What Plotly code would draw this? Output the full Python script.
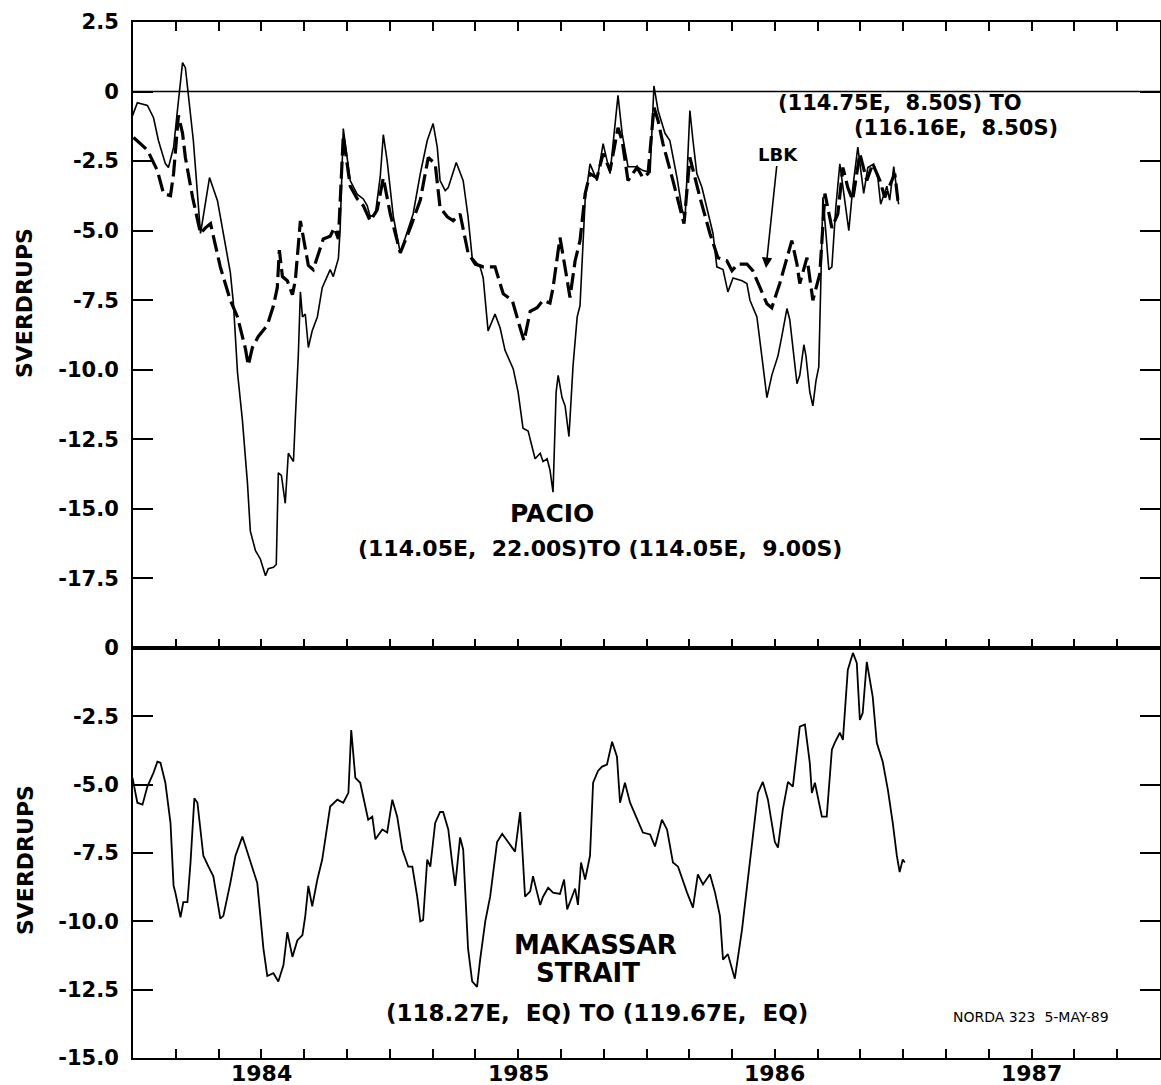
import plotly.graph_objects as go

# ---------------- data (decimal years, Sverdrups) ----------------
pacio_t = [
    1983.494, 1983.517, 1983.556, 1983.580, 1983.599, 1983.626, 1983.638, 1983.658, 1983.673, 1983.693,
    1983.704, 1983.716, 1983.735, 1983.763, 1983.798, 1983.829, 1983.852, 1983.879, 1983.891, 1983.907,
    1983.926, 1983.946, 1983.957, 1983.977, 1983.996, 1984.016, 1984.027, 1984.047, 1984.058, 1984.066,
    1984.078, 1984.093, 1984.105, 1984.125, 1984.132, 1984.144, 1984.152, 1984.160, 1984.171, 1984.183,
    1984.198, 1984.218, 1984.237, 1984.249, 1984.268, 1984.280, 1984.300, 1984.307, 1984.319, 1984.346,
    1984.374, 1984.397, 1984.412, 1984.424, 1984.444, 1984.463, 1984.475, 1984.490, 1984.514, 1984.541,
    1984.591, 1984.619, 1984.646, 1984.669, 1984.685, 1984.696, 1984.716, 1984.728, 1984.759, 1984.786,
    1984.805, 1984.821, 1984.852, 1984.864, 1984.883, 1984.910, 1984.930, 1984.949, 1984.981, 1985.000,
    1985.019, 1985.039, 1985.066, 1985.086, 1985.097, 1985.113, 1985.124, 1985.136, 1985.148, 1985.156,
    1985.171, 1985.183, 1985.198, 1985.214, 1985.230, 1985.241, 1985.261, 1985.280, 1985.307, 1985.331,
    1985.358, 1985.389, 1985.405, 1985.428, 1985.463, 1985.486, 1985.514, 1985.529, 1985.545, 1985.572,
    1985.591, 1985.619, 1985.638, 1985.650, 1985.669, 1985.681, 1985.696, 1985.716, 1985.735, 1985.759,
    1985.774, 1985.798, 1985.817, 1985.837, 1985.872, 1985.891, 1985.903, 1985.930, 1985.953, 1985.969,
    1985.988, 1986.012, 1986.027, 1986.047, 1986.058, 1986.074, 1986.086, 1986.097, 1986.113, 1986.121,
    1986.136, 1986.148, 1986.160, 1986.171, 1986.179, 1986.187, 1986.198, 1986.210, 1986.222, 1986.237,
    1986.253, 1986.268, 1986.288, 1986.303, 1986.323, 1986.335, 1986.346, 1986.362, 1986.385, 1986.401,
    1986.412, 1986.436, 1986.447, 1986.463, 1986.475, 1986.482,
]
pacio_v = [
    -0.97, -0.40, -0.50, -0.94, -1.76, -2.59, -2.73, -2.01, -0.68, 1.04,
    0.86, -0.07, -1.76, -5.1, -3.09, -3.92, -5.1, -6.5, -7.6, -10.1,
    -11.8, -14.1, -15.8, -16.5, -16.8, -17.4, -17.15, -17.1, -17.0, -13.7,
    -13.8, -14.8, -13.0, -13.3, -11.8, -9.44, -7.2, -8.1, -8.0, -9.2,
    -8.6, -8.1, -7.05, -6.8, -6.4, -6.65, -6.0, -4.9, -1.33, -3.2,
    -3.7, -3.86, -4.1, -4.5, -4.4, -3.06, -1.55, -2.5, -4.5, -5.8,
    -4.4, -2.95, -1.76, -1.15, -2.0, -3.2, -3.56, -3.45, -2.55, -3.2,
    -4.5, -5.97, -6.3, -6.7, -8.6, -8.0, -8.5, -9.3, -9.97, -10.8,
    -12.1, -12.2, -13.2, -13.0, -13.3, -13.2, -13.6, -14.4, -10.8, -10.2,
    -11.0, -11.3, -12.4, -9.84, -8.1, -7.7, -3.9, -2.6, -3.2, -1.87,
    -2.95, -0.14, -1.5, -2.7, -2.7, -2.84, -2.9, 0.2, -0.68, -1.5,
    -1.76, -3.1, -4.2, -4.64, -0.68, -1.76, -2.95, -3.45, -4.2, -5.1,
    -6.3, -6.4, -7.2, -6.7, -6.8, -6.9, -7.5, -8.1, -9.8, -11.0,
    -10.2, -9.5, -8.8, -7.8, -8.2, -9.5, -10.5, -10.2, -9.1, -9.5,
    -10.8, -11.3, -10.4, -9.9, -6.85, -3.8, -5.0, -6.4, -6.3, -4.2,
    -2.6, -3.66, -5.0, -3.5, -2.0, -2.86, -3.66, -2.73, -2.6, -3.1,
    -4.05, -3.4, -3.9, -2.7, -3.66, -4.05,
]

lbk_t = [
    1983.502, 1983.556, 1983.595, 1983.619, 1983.646, 1983.658, 1983.677, 1983.693, 1983.704, 1983.732,
    1983.763, 1983.782, 1983.802, 1983.840, 1983.879, 1983.907, 1983.938, 1983.949, 1983.965, 1983.988,
    1984.023, 1984.047, 1984.062, 1984.070, 1984.082, 1984.101, 1984.121, 1984.132, 1984.152, 1984.163,
    1984.183, 1984.202, 1984.222, 1984.241, 1984.268, 1984.284, 1984.300, 1984.311, 1984.319, 1984.346,
    1984.374, 1984.397, 1984.424, 1984.451, 1984.475, 1984.502, 1984.541, 1984.580, 1984.619, 1984.650,
    1984.677, 1984.696, 1984.724, 1984.747, 1984.774, 1984.805, 1984.833, 1984.864, 1984.910, 1984.942,
    1984.977, 1985.008, 1985.023, 1985.047, 1985.074, 1985.097, 1985.124, 1985.136, 1985.163, 1985.183,
    1985.202, 1985.222, 1985.241, 1985.261, 1985.280, 1985.307, 1985.331, 1985.358, 1985.389, 1985.405,
    1985.428, 1985.463, 1985.486, 1985.506, 1985.529, 1985.545, 1985.564, 1985.603, 1985.630, 1985.646,
    1985.669, 1985.689, 1985.708, 1985.747, 1985.778, 1985.813, 1985.833, 1985.856, 1985.891, 1985.914,
    1985.942, 1985.969, 1985.988, 1986.019, 1986.066, 1986.086, 1986.097, 1986.125, 1986.148, 1986.175,
    1986.195, 1986.222, 1986.245, 1986.265, 1986.284, 1986.303, 1986.331, 1986.358, 1986.381, 1986.409,
    1986.428, 1986.455, 1986.467, 1986.479, 1986.494,
]
lbk_v = [
    -1.65, -2.1, -2.84, -3.67, -3.74, -2.95, -0.86, -1.5, -2.37, -3.8,
    -5.1, -4.9, -4.75, -6.3, -7.5, -8.1, -9.25, -9.84, -9.2, -8.8,
    -8.4, -7.7, -7.05, -5.7, -6.65, -6.8, -7.3, -6.8, -4.65, -5.2,
    -6.25, -6.4, -5.85, -5.3, -5.2, -4.9, -5.3, -2.8, -1.6, -3.4,
    -3.86, -4.1, -4.65, -4.25, -3.1, -4.4, -5.8, -4.9, -3.9, -2.37,
    -2.6, -4.17, -4.5, -4.64, -4.4, -5.8, -6.2, -6.3, -6.3, -7.27,
    -7.5, -8.5, -8.96, -7.9, -7.77, -7.5, -7.6, -7.05, -5.25, -6.33,
    -7.4, -6.08, -5.36, -3.67, -2.95, -3.1, -2.23, -2.84, -1.3, -1.76,
    -3.2, -2.73, -3.1, -2.95, -0.57, -1.04, -1.87, -3.2, -4.17, -4.75,
    -2.37, -3.1, -3.8, -5.1, -5.97, -6.08, -6.44, -6.2, -6.2, -6.44,
    -7.05, -7.63, -7.77, -6.9, -5.36, -6.2, -6.9, -5.97, -7.5, -6.55,
    -3.67, -4.9, -4.4, -2.73, -3.45, -3.9, -2.23, -3.2, -2.6, -3.2,
    -3.8, -3.2, -2.95, -3.9, -4.03,
]

makassar_t = [
    1983.498, 1983.517, 1983.537, 1983.556, 1983.580, 1983.595, 1983.607, 1983.626, 1983.646, 1983.658,
    1983.665, 1983.685, 1983.696, 1983.712, 1983.724, 1983.739, 1983.751, 1983.774, 1983.794, 1983.813,
    1983.840, 1983.852, 1983.879, 1983.899, 1983.926, 1983.949, 1983.984, 1984.008, 1984.023, 1984.047,
    1984.066, 1984.086, 1984.101, 1984.121, 1984.140, 1984.160, 1984.171, 1984.183, 1984.198, 1984.218,
    1984.237, 1984.268, 1984.296, 1984.319, 1984.339, 1984.350, 1984.366, 1984.385, 1984.416, 1984.432,
    1984.444, 1984.471, 1984.490, 1984.510, 1984.529, 1984.549, 1984.572, 1984.588, 1984.607, 1984.619,
    1984.630, 1984.646, 1984.658, 1984.677, 1984.696, 1984.708, 1984.728, 1984.743, 1984.755, 1984.774,
    1984.786, 1984.805, 1984.821, 1984.840, 1984.852, 1984.872, 1984.891, 1984.918, 1984.938, 1984.961,
    1984.988, 1985.008, 1985.027, 1985.047, 1985.058, 1985.074, 1985.086, 1985.097, 1985.117, 1985.136,
    1985.163, 1985.179, 1985.191, 1985.210, 1985.222, 1985.233, 1985.245, 1985.261, 1985.280, 1985.292,
    1985.311, 1985.327, 1985.346, 1985.366, 1985.385, 1985.397, 1985.416, 1985.436, 1985.463, 1985.486,
    1985.514, 1985.533, 1985.560, 1985.580, 1985.603, 1985.623, 1985.658, 1985.681, 1985.700, 1985.720,
    1985.747, 1985.767, 1985.786, 1985.798, 1985.817, 1985.844, 1985.872, 1985.903, 1985.934, 1985.953,
    1985.973, 1986.000, 1986.012, 1986.031, 1986.051, 1986.070, 1986.089, 1986.097, 1986.117, 1986.136,
    1986.144, 1986.156, 1986.183, 1986.202, 1986.222, 1986.233, 1986.253, 1986.265, 1986.284, 1986.304,
    1986.319, 1986.331, 1986.342, 1986.358, 1986.381, 1986.397, 1986.420, 1986.440, 1986.459, 1986.475,
    1986.486, 1986.498, 1986.506,
]
makassar_v = [
    -4.75, -5.66, -5.73, -5.07, -4.56, -4.16, -4.2, -4.93, -6.4, -8.7,
    -8.95, -9.85, -9.3, -9.3, -7.85, -5.5, -5.66, -7.6, -8.0, -8.35,
    -9.9, -9.8, -8.6, -7.6, -6.9, -7.6, -8.6, -11.0, -12.0, -11.9,
    -12.2, -11.6, -10.4, -11.3, -10.7, -10.5, -9.8, -8.7, -9.45, -8.47,
    -7.74, -5.8, -5.55, -5.66, -5.3, -3.0, -4.75, -4.93, -6.28, -6.17,
    -7.0, -6.64, -6.75, -5.55, -6.17, -7.37, -8.0, -8.0, -9.1, -10.0,
    -9.95, -7.74, -8.0, -6.4, -6.0, -6.0, -6.64, -7.85, -8.7, -6.93,
    -7.37, -11.0, -12.2, -12.4, -11.4, -10.0, -9.1, -7.1, -6.8, -7.1,
    -7.45, -6.0, -9.1, -8.9, -8.35, -8.95, -9.4, -9.1, -8.77, -8.95,
    -9.0, -8.47, -9.56, -9.1, -8.8, -9.4, -7.85, -8.47, -7.6, -4.93,
    -4.5, -4.34, -4.27, -3.43, -3.98, -5.66, -4.93, -5.66, -6.28, -6.75,
    -6.82, -7.26, -6.28, -6.64, -7.85, -8.0, -8.95, -9.5, -8.28, -8.65,
    -8.28, -8.95, -9.8, -11.4, -11.2, -12.1, -10.3, -7.85, -5.3, -4.9,
    -5.55, -7.1, -7.3, -5.9, -4.9, -5.07, -3.47, -2.88, -2.8, -4.2,
    -5.3, -4.93, -6.17, -6.17, -3.72, -3.47, -3.1, -3.36, -0.8, -0.18,
    -0.55, -2.63, -2.38, -0.51, -1.78, -3.47, -4.16, -5.18, -6.39, -7.6,
    -8.2, -7.74, -7.85,
]

top_ticks = [2.5, 0, -2.5, -5.0, -7.5, -10.0, -12.5, -15.0, -17.5]
top_ticktext = ["2.5", "0", "-2.5", "-5.0", "-7.5", "-10.0", "-12.5", "-15.0", "-17.5"]
bot_ticks = [0, -2.5, -5.0, -7.5, -10.0, -12.5, -15.0]
bot_ticktext = ["0", "-2.5", "-5.0", "-7.5", "-10.0", "-12.5", "-15.0"]
year_labels = [1984, 1985, 1986, 1987]

# ---------------- layout geometry ----------------
W, H = 1161, 1085
L, R, T, B = 133, 1, 22, 27
plot_h = H - T - B
split = (1058 - 648) / plot_h  # bottom panel fraction


def pxx(x):
    return (x - L) / (W - L - R)


def pxy(y):
    return (H - B - y) / plot_h


x_ticks = [1983.5 + k / 6 for k in range(25)]

FONT = "DejaVu Sans"
n1 = min(len(pacio_t), len(pacio_v))
n2 = min(len(lbk_t), len(lbk_v))
n3 = min(len(makassar_t), len(makassar_v))

fig = go.Figure()
fig.add_trace(go.Scatter(x=pacio_t[:n1], y=pacio_v[:n1], mode="lines",
                         line=dict(color="black", width=1.6), name="PACIO",
                         xaxis="x", yaxis="y", showlegend=False))
fig.add_trace(go.Scatter(x=lbk_t[:n2], y=lbk_v[:n2], mode="lines",
                         line=dict(color="black", width=3.2, dash="17px,6px"), name="LBK",
                         xaxis="x", yaxis="y", showlegend=False))
fig.add_trace(go.Scatter(x=makassar_t[:n3], y=makassar_v[:n3], mode="lines",
                         line=dict(color="black", width=1.8), name="MAKASSAR STRAIT",
                         xaxis="x2", yaxis="y2", showlegend=False))

common_x = dict(range=[1983.5, 1987.5], tickvals=x_ticks, ticks="inside",
                ticklen=9, tickwidth=1.5, tickcolor="black", showline=True, linecolor="black",
                linewidth=2, showgrid=False, zeroline=False, automargin=False,
                showticklabels=False)
common_y = dict(ticks="inside", ticklen=20, tickwidth=1.5, tickcolor="black", showline=True,
                linecolor="black", linewidth=2, mirror="allticks", showgrid=False, zeroline=False,
                ticklabelstandoff=8, automargin=False,
                tickfont=dict(family=FONT, size=21, color="black", weight="bold"))

fig.update_layout(
    width=W, height=H, margin=dict(l=L, r=R, t=T, b=B, autoexpand=False),
    paper_bgcolor="white", plot_bgcolor="white",
    xaxis=dict(domain=[0, 1], anchor="y", mirror="allticks", **common_x),
    yaxis=dict(domain=[split, 1], anchor="x", range=[-20, 2.5], tickvals=top_ticks,
               ticktext=top_ticktext, **common_y),
    xaxis2=dict(domain=[0, 1], anchor="y2", mirror=True, **common_x),
    yaxis2=dict(domain=[0, split], anchor="x2", range=[-15, 0], tickvals=bot_ticks,
                ticktext=bot_ticktext, **common_y),
)

fig.add_shape(type="line", xref="x", yref="y", x0=1983.5, x1=1987.5, y0=0, y1=0,
              line=dict(color="black", width=1.5))

# year labels under the bottom axis
for yr in year_labels:
    fig.add_annotation(text=str(yr), x=yr, y=pxy(1073), xref="x2", yref="paper",
                       showarrow=False, xanchor="center", yanchor="middle",
                       font=dict(family=FONT, size=22, color="black", weight="bold"))


def label(text, x, y, size, bold=True, angle=0):
    fig.add_annotation(text=text, x=pxx(x), y=pxy(y), xref="paper", yref="paper",
                       showarrow=False, textangle=angle, xanchor="center", yanchor="middle",
                       font=dict(family=FONT, size=size, color="black",
                                 weight="bold" if bold else "normal"))


label("SVERDRUPS", 25, 303, 22, angle=-90)
label("SVERDRUPS", 25, 860, 22, angle=-90)
label("(114.75E,  8.50S) TO", 900, 103, 21)
label("(116.16E,  8.50S)", 956, 128, 21)
label("PACIO", 552, 513, 25)
label("(114.05E,  22.00S)TO (114.05E,  9.00S)", 600, 548, 22)
label("MAKASSAR", 595, 945, 26)
label("STRAIT", 588, 973, 26)
label("(118.27E,  EQ) TO (119.67E,  EQ)", 597, 1013, 23)
label("NORDA 323  5-MAY-89", 1031, 1017, 14, bold=False)

# LBK label with arrow
fig.add_annotation(text="LBK", x=pxx(766), y=pxy(268), xref="paper", yref="paper",
                   showarrow=True, arrowhead=2, arrowsize=1.3, arrowwidth=1.6, arrowcolor="black",
                   ax=12, ay=-114, axref="pixel", ayref="pixel", standoff=0,
                   font=dict(family=FONT, size=18, color="black", weight="bold"))

fig.write_html(
    "out.html",
    config={"displayModeBar": False},
    post_script="document.body.style.margin='0';document.body.style.overflow='hidden';",
)
